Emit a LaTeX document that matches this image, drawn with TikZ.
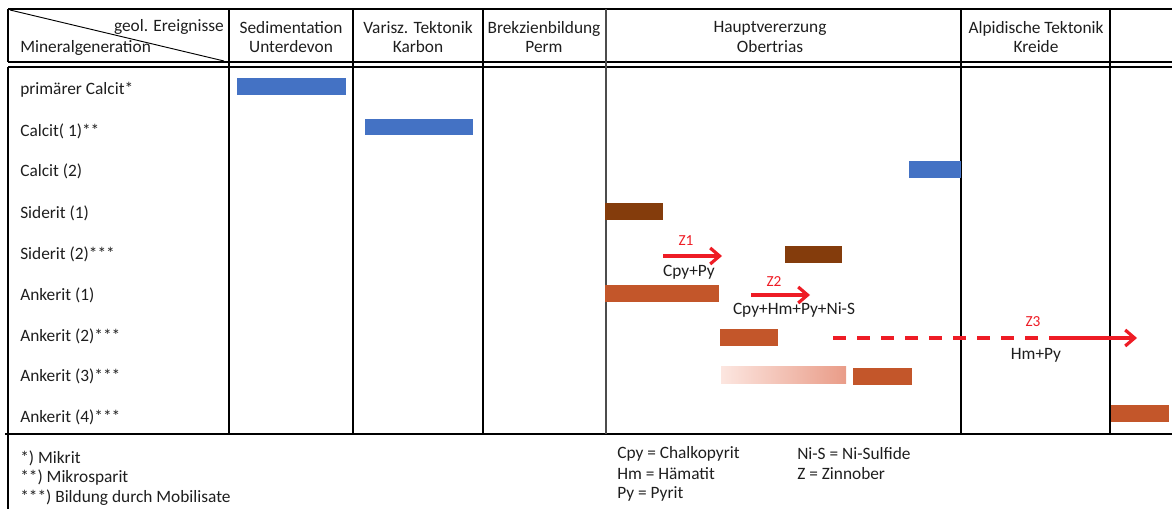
\documentclass[tikz,border=0pt]{standalone}
\usepackage{fontspec}
\setmainfont{Carlito}
\usetikzlibrary{arrows.meta, positioning}
\definecolor{ink}{HTML}{1E1E1E}
\definecolor{calcblue}{HTML}{4472C4}
\definecolor{sidbrown}{HTML}{843C0C}
\definecolor{ankorange}{HTML}{C3562A}
\definecolor{ankfade}{HTML}{FCE6E0}
\definecolor{ankpale}{HTML}{E99C88}
\definecolor{zred}{HTML}{EE1C25}
\tikzset{
  thin/.style={line width=0.8pt, draw=black},
  thick/.style={line width=1.5pt, draw=black},
  txt/.style={inner sep=0pt, font=\fontsize{13}{14.5}\selectfont, text=ink},
  rowlbl/.style={txt, anchor=west},
  head/.style={txt, align=center},
  zlbl/.style={inner sep=0pt, font=\fontsize{11.5}{12}\selectfont, text=zred},
  zline/.style={line width=2.8pt, draw=zred},
  zarrow/.style={zline, -{Straight Barb[length=7pt, width=12pt, line width=2.4pt]}},
}
\begin{document}
\begin{tikzpicture}[x=0.75pt, y=-0.75pt]
  \useasboundingbox (0,0) rectangle (1172,509);

  % table frame
  \draw[thick] (8,9) -- (1172,9);
  \draw[thick] (8,62) -- (1172,62);
  \draw[thick] (8,67) -- (1172,67);
  \draw[thick] (5,434) -- (1172,434);
  \draw[thick] (8,9) -- (8,62);
  \draw[thick] (8,67) -- (8,509);
  \draw[thick] (229,9) -- (229,434);
  \draw[thin] (353,9) -- (353,434);
  \draw[thin] (483,9) -- (483,434);
  \draw[thin, draw=black!70] (606,9) -- (606,434);
  \draw[thin] (961,9) -- (961,434);
  \draw[thin] (1110,9) -- (1110,434);
  \draw[line width=0.7pt] (10,10) -- (224,61);

  % header
  \node[txt, anchor=east] (ereig) at (224,27) {geol. Ereignisse};
  \node[txt, anchor=west] (mingen) at (20,48) {Mineralgeneration};
  \node[head] (sed) at (291,37) {Sedimentation\\Unterdevon};
  \node[head] (var) at (418,37) {Varisz. Tektonik\\Karbon};
  \node[head] (brek) at (544,37) {Brekzienbildung\\Perm};
  \node[head] (haupt) at (770,37) {Hauptvererzung\\Obertrias};
  \node[head] (alp) at (1036,37) {Alpidische Tektonik\\Kreide};

  % mineral generations
  \node[rowlbl] (pcalc) at (20,90) {primärer Calcit*};
  \node[rowlbl] (calc1) at (20,131) {Calcit( 1)**};
  \node[rowlbl] (calc2) at (20,171) {Calcit (2)};
  \node[rowlbl] (sid1) at (20,213) {Siderit (1)};
  \node[rowlbl] (sid2) at (20,254) {Siderit (2)***};
  \node[rowlbl] (ank1) at (20,295) {Ankerit (1)};
  \node[rowlbl] (ank2) at (20,336) {Ankerit (2)***};
  \node[rowlbl] (ank3) at (20,376) {Ankerit (3)***};
  \node[rowlbl] (ank4) at (20,417) {Ankerit (4)***};

  % bars
  \fill[calcblue] (237,78) rectangle (346,95);
  \fill[calcblue] (365,119) rectangle (473,135);
  \fill[calcblue] (909,161) rectangle (961,178);
  \fill[sidbrown] (605,203) rectangle (663,220);
  \fill[sidbrown] (785,246) rectangle (842,263);
  \fill[ankorange] (605,285) rectangle (719,302);
  \fill[ankorange] (720,329) rectangle (778,346);
  \shade[left color=ankfade, right color=ankpale] (721,367) rectangle (846,384);
  \fill[ankorange] (853,368) rectangle (912,385);
  \fill[ankorange] (1111,405) rectangle (1169,422);

  % mobilisation arrows
  \coordinate (z1a) at (663,256);
  \coordinate (z1b) at (722,256);
  \draw[zarrow] (z1a) -- (z1b);
  \node[zlbl] (z1) at (686,241) {Z1};
  \node[txt] (z1min) at (689,272) {Cpy+Py};

  \coordinate (z2a) at (751,295);
  \coordinate (z2b) at (810,295);
  \draw[zarrow] (z2a) -- (z2b);
  \node[zlbl] (z2) at (774,282) {Z2};
  \node[txt] (z2min) at (794,310) {Cpy+Hm+Py+Ni-S};

  \coordinate (z3a) at (833,338);
  \coordinate (z3m) at (1053,338);
  \coordinate (z3b) at (1137,338);
  \draw[zline, dash pattern=on 10pt off 8pt] (z3a) -- (z3m);
  \draw[zarrow] (z3m) -- (z3b);
  \node[zlbl] (z3) at (1033,322) {Z3};
  \node[txt] (z3min) at (1036,355) {Hm+Py};

  % footnotes
  \node[rowlbl] (fn1) at (20,458) {*) Mikrit};
  \node[rowlbl] (fn2) at (20,478) {**) Mikrosparit};
  \node[rowlbl] (fn3) at (20,498) {***) Bildung durch Mobilisate};
  \node[rowlbl] (cpy) at (617,454) {Cpy = Chalkopyrit};
  \node[rowlbl] (hm) at (617,474) {Hm = Hämatit};
  \node[rowlbl] (py) at (617,494) {Py = Pyrit};
  \node[rowlbl] (nis) at (797,454) {Ni-S = Ni-Sulfide};
  \node[rowlbl] (zin) at (797,474) {Z = Zinnober};
\end{tikzpicture}
\end{document}
